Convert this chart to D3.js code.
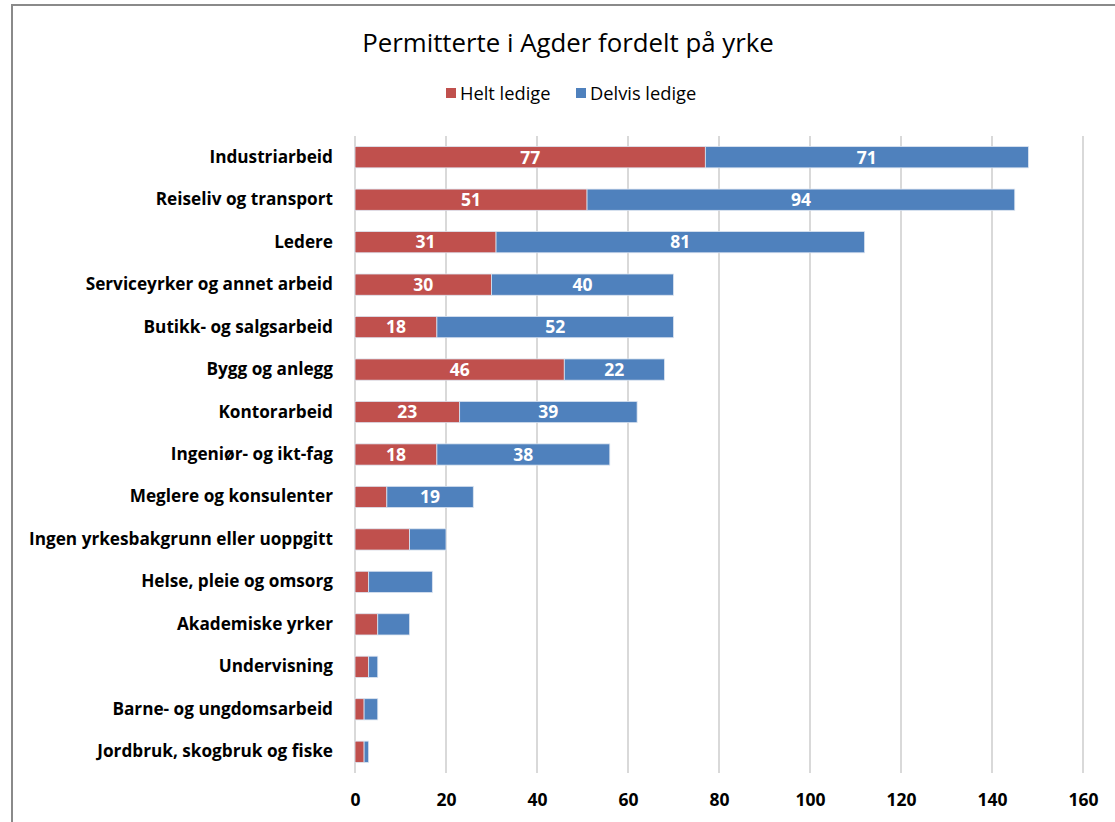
<!DOCTYPE html>
<html>
<head>
<meta charset="utf-8">
<script src="https://cdn.jsdelivr.net/npm/d3@7"></script>
<style>
  body { margin: 0; background: #fff; }
  svg { display: block; font-family: "Open Sans", "Noto Sans", sans-serif; }
</style>
</head>
<body>
<svg id="chart" width="1115" height="822"></svg>
<script>
var categories = ["Industriarbeid", "Reiseliv og transport", "Ledere",
  "Serviceyrker og annet arbeid", "Butikk- og salgsarbeid", "Bygg og anlegg",
  "Kontorarbeid", "Ingeniør- og ikt-fag", "Meglere og konsulenter",
  "Ingen yrkesbakgrunn eller uoppgitt", "Helse, pleie og omsorg",
  "Akademiske yrker", "Undervisning", "Barne- og ungdomsarbeid",
  "Jordbruk, skogbruk og fiske"];
var heltLedige   = [77, 51, 31, 30, 18, 46, 23, 18, 7, 12, 3, 5, 3, 2, 2];
var delvisLedige = [71, 94, 81, 40, 52, 22, 39, 38, 19, 8, 14, 7, 2, 3, 1];
var seriesNames = ["Helt ledige", "Delvis ledige"];
var xTicks = [0, 20, 40, 60, 80, 100, 120, 140, 160];

var colors = ["#C0504D", "#4F81BD"];

var svg = d3.select("#chart");

// frame
svg.append("rect")
  .attr("x", 12).attr("y", 5)
  .attr("width", 1120).attr("height", 830)
  .attr("fill", "none")
  .attr("stroke", "#8a8a8a")
  .attr("stroke-width", 2);

// title
svg.append("text")
  .attr("x", 568).attr("y", 52)
  .attr("text-anchor", "middle")
  .attr("font-size", 25.8)
  .attr("fill", "#000")
  .text("Permitterte i Agder fordelt på yrke");

// legend
var legend = svg.append("g").attr("font-size", 18.3);
var legendX = [446, 576];
seriesNames.forEach(function(name, i) {
  legend.append("rect")
    .attr("x", legendX[i]).attr("y", 88)
    .attr("width", 10).attr("height", 10)
    .attr("fill", colors[i]);
  legend.append("text")
    .attr("x", legendX[i] + 14).attr("y", 99.5)
    .attr("fill", "#000")
    .text(name);
});

var plotLeft = 355, plotRight = 1083, plotTop = 136, plotBottom = 773;

var x = d3.scaleLinear().domain([0, 160]).range([plotLeft, plotRight]);
var y = d3.scaleBand().domain(categories).range([plotTop, plotBottom]).paddingInner(0.5).paddingOuter(0.25);

// gridlines
svg.append("g").selectAll("line")
  .data(xTicks)
  .enter().append("line")
  .attr("x1", function(d) { return x(d); })
  .attr("x2", function(d) { return x(d); })
  .attr("y1", plotTop).attr("y2", plotBottom)
  .attr("stroke", "#d9d9d9")
  .attr("stroke-width", 2);

// stacked data
var rows = categories.map(function(c, i) {
  return { cat: c, helt: heltLedige[i], delvis: delvisLedige[i] };
});
var stack = d3.stack().keys(["helt", "delvis"]);
var layers = stack(rows);

var g = svg.append("g");
layers.forEach(function(layer, li) {
  var lg = g.append("g");
  lg.selectAll("rect")
    .data(layer)
    .enter().append("rect")
    .attr("x", function(d) { return x(d[0]); })
    .attr("y", function(d) { return y(d.data.cat); })
    .attr("width", function(d) { return x(d[1]) - x(d[0]); })
    .attr("height", y.bandwidth())
    .attr("fill", colors[li])
    .attr("stroke", "#dbe4f0")
    .attr("stroke-width", 0.8);

  lg.selectAll("text")
    .data(layer.filter(function(d) { return d[1] - d[0] >= 15; }))
    .enter().append("text")
    .attr("x", function(d) { return (x(d[0]) + x(d[1])) / 2; })
    .attr("y", function(d) { return y(d.data.cat) + y.bandwidth() / 2; })
    .attr("dy", "0.36em")
    .attr("text-anchor", "middle")
    .attr("font-size", 17.5)
    .attr("font-weight", "bold")
    .attr("fill", "#fff")
    .text(function(d) { return d[1] - d[0]; });
});

// y axis labels
var yAxis = d3.axisLeft(y).tickSize(0).tickPadding(22);
var ya = svg.append("g")
  .attr("transform", "translate(" + plotLeft + ",0)")
  .call(yAxis);
ya.select(".domain").remove();
ya.selectAll("text")
  .attr("font-family", "\"Open Sans\", sans-serif")
  .attr("font-size", 17.2)
  .attr("font-weight", "bold")
  .attr("fill", "#000");

// x axis
var xAxis = d3.axisBottom(x).tickValues(xTicks).tickSize(0).tickPadding(21);
var xa = svg.append("g")
  .attr("transform", "translate(0," + plotBottom + ")")
  .call(xAxis);
xa.select(".domain").remove();
xa.selectAll("text")
  .attr("font-family", "\"Open Sans\", sans-serif")
  .attr("font-size", 17.5)
  .attr("font-weight", "bold")
  .attr("fill", "#000");
</script>
</body>
</html>
